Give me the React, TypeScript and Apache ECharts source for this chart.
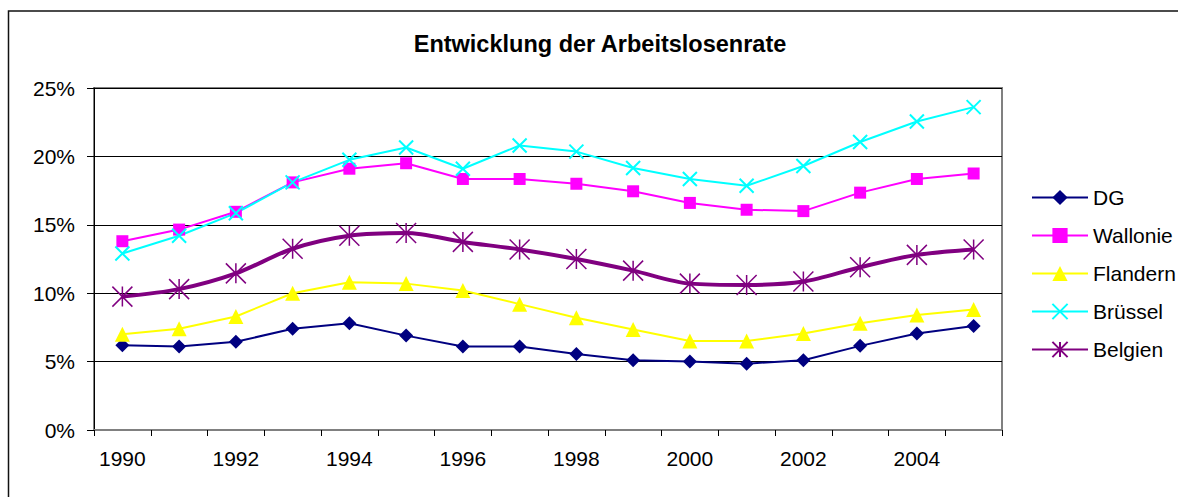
import React, { useEffect, useRef } from "react";
import * as echarts from "echarts";

const years = ["1990","1991","1992","1993","1994","1995","1996","1997","1998","1999","2000","2001","2002","2003","2004","2005"];
const dg = [6.2, 6.1, 6.45, 7.4, 7.8, 6.9, 6.1, 6.1, 5.55, 5.1, 5.0, 4.85, 5.1, 6.15, 7.05, 7.6];
const wallonie = [13.8, 14.65, 15.95, 18.1, 19.1, 19.5, 18.35, 18.35, 18.0, 17.45, 16.6, 16.1, 16.0, 17.35, 18.35, 18.75];
const flandern = [7.0, 7.4, 8.3, 10.0, 10.8, 10.7, 10.2, 9.2, 8.2, 7.35, 6.5, 6.5, 7.05, 7.8, 8.4, 8.8];
const bruessel = [12.9, 14.2, 15.85, 18.1, 19.75, 20.65, 19.1, 20.8, 20.35, 19.15, 18.35, 17.85, 19.3, 21.05, 22.55, 23.6];
const belgien = [9.75, 10.3, 11.45, 13.25, 14.2, 14.4, 13.75, 13.2, 12.5, 11.65, 10.7, 10.6, 10.85, 11.9, 12.8, 13.2];

const FONT = "'Liberation Sans', Arial, sans-serif";

export default function App() {
  const ref = useRef<HTMLDivElement>(null);
  useEffect(() => {
    const chart = echarts.init(ref.current!, null, { renderer: "svg" });
    chart.setOption({
      animation: false,
      backgroundColor: "#fff",
      textStyle: { fontFamily: FONT },
      title: {
        text: "Entwicklung der Arbeitslosenrate",
        left: 600,
        textAlign: "center",
        top: 32,
        padding: 0,
        textStyle: { fontFamily: FONT, fontSize: 23.5, fontWeight: "bold", color: "#000" },
      },
      graphic: [
        {
          type: "rect",
          shape: { x: 8.5, y: 11, width: 1180, height: 500 },
          style: { fill: "none", stroke: "#111", lineWidth: 1.5 },
          silent: true,
        },
      ],
      legend: {
        orient: "vertical",
        left: 1031,
        top: 187,
        padding: 0,
        itemWidth: 56,
        itemHeight: 19,
        itemGap: 17,
        textStyle: { fontFamily: FONT, fontSize: 21, color: "#000" },
        data: ["DG", "Wallonie", "Flandern", "Brüssel", "Belgien"],
      },
      grid: {
        left: 94,
        right: 176,
        top: 88,
        bottom: 67,
        show: true,
        borderColor: "#808080",
        borderWidth: 2,
        backgroundColor: "#fff",
      },
      xAxis: {
        type: "category",
        data: years,
        boundaryGap: true,
        axisLine: { lineStyle: { color: "#808080", width: 2 } },
        axisTick: { show: true, interval: 0, length: 6, lineStyle: { color: "#000" } },
        axisLabel: { interval: 1, margin: 18, fontSize: 21, color: "#000", fontFamily: FONT },
      },
      yAxis: {
        type: "value",
        min: 0,
        max: 25,
        interval: 5,
        axisLine: { show: true, lineStyle: { color: "#000", width: 1 } },
        axisTick: { show: true, length: 7, lineStyle: { color: "#000" } },
        axisLabel: { formatter: "{value}%", margin: 19, fontSize: 21, color: "#000", fontFamily: FONT },
        splitLine: { show: true, lineStyle: { color: "#000", width: 1 } },
      },
      series: [
        {
          name: "DG",
          type: "line",
          data: dg,
          symbol: "diamond",
          symbolSize: 14,
          lineStyle: { color: "#000080", width: 2 },
          itemStyle: { color: "#000080" },
        },
        {
          name: "Wallonie",
          type: "line",
          data: wallonie,
          symbol: "rect",
          symbolSize: 12,
          lineStyle: { color: "#FF00FF", width: 2 },
          itemStyle: { color: "#FF00FF" },
        },
        {
          name: "Flandern",
          type: "line",
          data: flandern,
          symbol: "triangle",
          symbolSize: 15,
          lineStyle: { color: "#FFFF00", width: 2 },
          itemStyle: { color: "#FFFF00" },
        },
        {
          name: "Brüssel",
          type: "line",
          data: bruessel,
          symbol: "path://M0,0L10,10M10,0L0,10",
          symbolSize: 14,
          lineStyle: { color: "#00FFFF", width: 2 },
          itemStyle: { color: "#00FFFF", borderColor: "#00FFFF", borderWidth: 2 },
        },
        {
          name: "Belgien",
          type: "line",
          data: belgien,
          smooth: 0.3,
          symbol: "path://M0,0L20,20M20,0L0,20M10,0L10,20",
          symbolSize: 20,
          lineStyle: { color: "#800080", width: 4 },
          itemStyle: { color: "#800080", borderColor: "#800080", borderWidth: 1.5 },
        },
      ],
    });
    return () => chart.dispose();
  }, []);
  return (
    <div
      ref={ref}
      style={{ position: "absolute", left: 0, top: 0, width: 1178, height: 497 }}
    />
  );
}
